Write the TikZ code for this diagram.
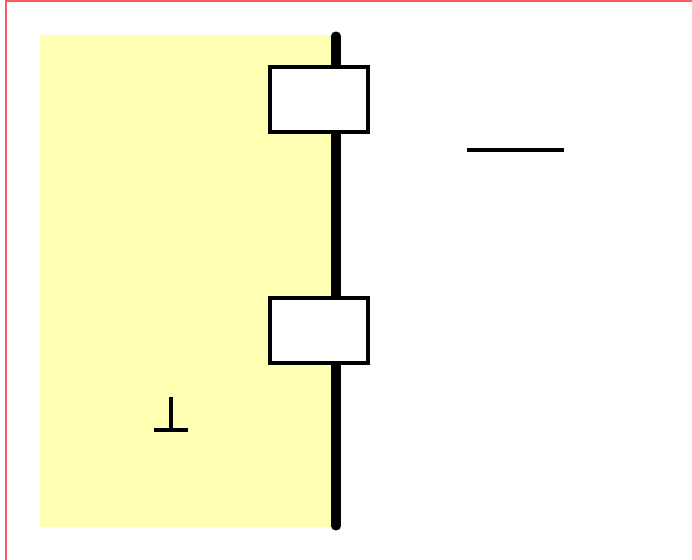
\documentclass[tikz,border=0pt]{standalone}
\definecolor{paleyellow}{HTML}{FFFFB4}
\definecolor{frame}{HTML}{FF5A5A}
\tikzset{
  boxshape/.style={draw=black, fill=white, line width=2.5pt},
  rail/.style={line width=6.8pt, line cap=round},
  stroke/.style={line width=2.5pt}
}
\begin{document}
\begin{tikzpicture}[x=0.75pt,y=-0.75pt]
\useasboundingbox (0,0) rectangle (692,560);
\draw[frame, line width=1.5pt] (6,580) -- (6,1.5) -- (700,1.5);
\fill[paleyellow] (40,35) rectangle (336,527);
\coordinate (top) at (336,36);
\coordinate (bot) at (336,526);
\draw[rail] (top) -- (bot);
\node[boxshape, minimum width=98*0.75pt, minimum height=65*0.75pt, inner sep=0pt] (b1) at (319,99.5) {};
\node[boxshape, minimum width=98*0.75pt, minimum height=65*0.75pt, inner sep=0pt] (b2) at (319,330.5) {};
\coordinate (h1) at (467,150);
\coordinate (h2) at (564,150);
\draw[stroke] (h1) -- (h2);
\coordinate (t1) at (171,397);
\coordinate (t2) at (171,430);
\coordinate (t3) at (154,430);
\coordinate (t4) at (188,430);
\draw[stroke] (t1) -- (t2);
\draw[stroke] (t3) -- (t4);
\end{tikzpicture}
\end{document}
